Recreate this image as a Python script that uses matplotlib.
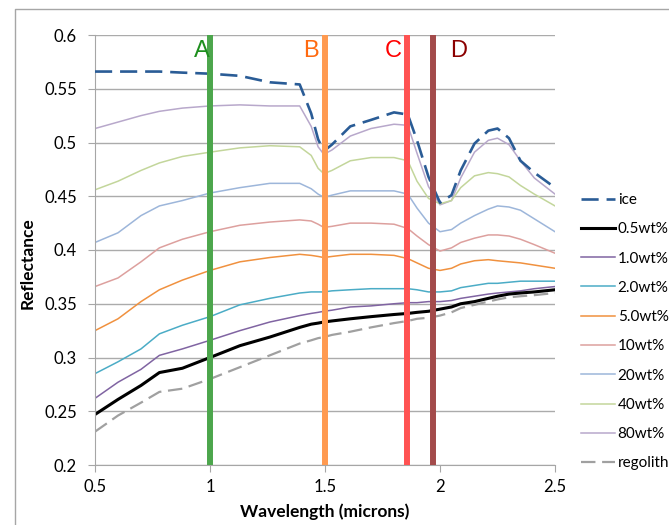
import matplotlib
matplotlib.use('Agg')
import matplotlib.pyplot as plt
from matplotlib.lines import Line2D
from matplotlib.ticker import FormatStrFormatter

plt.rcParams['font.family'] = ['Lato', 'DejaVu Sans']

# wavelength grid (microns)
wavelength = [0.5, 0.6, 0.7, 0.78, 0.88, 1.0, 1.13, 1.26, 1.39, 1.44, 1.47, 1.495, 1.53, 1.61,
              1.7, 1.8, 1.86, 1.9, 1.95, 2.0, 2.05, 2.09, 2.15, 2.21, 2.25, 2.3, 2.35, 2.41, 2.5]

ice = [0.566, 0.566, 0.566, 0.566, 0.565, 0.564, 0.562, 0.556, 0.554, 0.527, 0.503, 0.492, 0.498, 0.515,
       0.521, 0.528, 0.526, 0.502, 0.468, 0.444, 0.451, 0.474, 0.499, 0.511, 0.513, 0.504, 0.483, 0.472, 0.458]
wt80 = [0.513, 0.519, 0.525, 0.529, 0.532, 0.534, 0.535, 0.534, 0.534, 0.515, 0.496, 0.489, 0.493, 0.506,
        0.513, 0.517, 0.516, 0.490, 0.459, 0.442, 0.446, 0.467, 0.491, 0.502, 0.504, 0.498, 0.483, 0.467, 0.452]
wt40 = [0.456, 0.464, 0.474, 0.481, 0.487, 0.491, 0.495, 0.497, 0.496, 0.488, 0.476, 0.471, 0.474, 0.483,
        0.486, 0.486, 0.483, 0.464, 0.448, 0.443, 0.446, 0.458, 0.469, 0.472, 0.471, 0.468, 0.460, 0.452, 0.441]
wt20 = [0.407, 0.416, 0.432, 0.441, 0.446, 0.453, 0.458, 0.462, 0.462, 0.457, 0.452, 0.449, 0.451, 0.455,
        0.455, 0.455, 0.452, 0.439, 0.425, 0.417, 0.419, 0.425, 0.432, 0.438, 0.441, 0.440, 0.437, 0.429, 0.417]
wt10 = [0.366, 0.374, 0.389, 0.402, 0.410, 0.417, 0.423, 0.426, 0.428, 0.427, 0.424, 0.421, 0.422, 0.425,
        0.425, 0.424, 0.420, 0.413, 0.405, 0.399, 0.402, 0.407, 0.411, 0.414, 0.414, 0.413, 0.410, 0.405, 0.397]
wt5 = [0.325, 0.336, 0.352, 0.363, 0.372, 0.381, 0.389, 0.393, 0.396, 0.395, 0.394, 0.393, 0.394, 0.396,
       0.396, 0.395, 0.392, 0.388, 0.383, 0.381, 0.383, 0.387, 0.390, 0.391, 0.390, 0.389, 0.388, 0.386, 0.383]
wt2 = [0.285, 0.296, 0.308, 0.322, 0.330, 0.338, 0.349, 0.355, 0.360, 0.361, 0.361, 0.361, 0.362, 0.363,
       0.364, 0.364, 0.364, 0.363, 0.361, 0.361, 0.362, 0.365, 0.367, 0.369, 0.369, 0.370, 0.371, 0.371, 0.371]
wt1 = [0.262, 0.277, 0.289, 0.302, 0.308, 0.316, 0.325, 0.333, 0.339, 0.341, 0.342, 0.343, 0.344, 0.347,
       0.348, 0.350, 0.351, 0.351, 0.352, 0.352, 0.353, 0.355, 0.357, 0.359, 0.360, 0.361, 0.362, 0.364, 0.366]
wt05 = [0.247, 0.261, 0.274, 0.286, 0.290, 0.300, 0.311, 0.319, 0.328, 0.331, 0.332, 0.333, 0.334, 0.336,
        0.338, 0.340, 0.341, 0.342, 0.343, 0.345, 0.347, 0.350, 0.352, 0.355, 0.357, 0.359, 0.360, 0.361, 0.363]
regolith = [0.231, 0.246, 0.258, 0.268, 0.271, 0.280, 0.291, 0.302, 0.313, 0.316, 0.318, 0.319, 0.321, 0.324,
            0.328, 0.332, 0.334, 0.336, 0.337, 0.339, 0.342, 0.346, 0.349, 0.352, 0.354, 0.356, 0.357, 0.358, 0.360]

# absorption band markers
band_names = ['A', 'B', 'C', 'D']
band_pos = [1.0, 1.5, 1.857, 1.97]

W, H = 669, 525
fig = plt.figure(figsize=(W / 100, H / 100), dpi=100)
ax = fig.add_axes([95 / W, 60 / H, 460 / W, 430 / H])

series = [
    ('ice', ice, dict(color='#2A5C96', lw=1.9, ls=(0, (6.5, 3)))),
    ('0.5wt%', wt05, dict(color='black', lw=2.2)),
    ('1.0wt%', wt1, dict(color='#8064A2', lw=1.1)),
    ('2.0wt%', wt2, dict(color='#4BACC6', lw=1.1)),
    ('5.0wt%', wt5, dict(color='#F0913F', lw=1.1)),
    ('10wt%', wt10, dict(color='#DDA09E', lw=1.1)),
    ('20wt%', wt20, dict(color='#9DB6DA', lw=1.1)),
    ('40wt%', wt40, dict(color='#C3D69B', lw=1.1)),
    ('80wt%', wt80, dict(color='#B8A8CB', lw=1.1)),
    ('regolith', regolith, dict(color='#A0A0A0', lw=1.6, ls=(0, (6.5, 3)))),
]
# draw in reverse so ice ends up on top of the curves
for name, vals, st in reversed(series):
    ax.plot(wavelength, vals, label=name, zorder=3 if name == 'ice' else 2, **st)

band_colors = ['#4CA64C', '#FF9A50', '#FF5252', '#A34B4B']
text_colors = ['#1E8F1E', '#FF6A10', '#FF0000', '#8B0000']
text_dx = [-0.035, -0.06, -0.06, 0.11]
for name, x, bc, tc, dx in zip(band_names, band_pos, band_colors, text_colors, text_dx):
    ax.axvline(x, color=bc, lw=4.3, zorder=4)
    ax.text(x + dx, 0.585, name, color=tc, fontsize=17, family=['Liberation Sans'],
            ha='center', va='center', zorder=5)

ax.set_xlim(0.5, 2.5)
ax.set_ylim(0.2, 0.6)
ax.set_xticks([0.5, 1, 1.5, 2, 2.5])
ax.set_yticks([0.2, 0.25, 0.3, 0.35, 0.4, 0.45, 0.5, 0.55, 0.6])
ax.xaxis.set_major_formatter(FormatStrFormatter('%g'))
ax.yaxis.set_major_formatter(FormatStrFormatter('%g'))
ax.grid(axis='y', color='#ABABAB', lw=1.0)
ax.set_axisbelow(True)
for s in ['top', 'right']:
    ax.spines[s].set_visible(False)
for s in ['left', 'bottom']:
    ax.spines[s].set_color('#A6A6A6')
ax.tick_params(axis='both', direction='out', length=5, color='#A6A6A6', labelsize=12)
ax.tick_params(axis='x', pad=5)
ax.tick_params(axis='y', pad=8)

ax.set_xlabel('Wavelength (microns)', fontsize=12.5, fontweight='bold', labelpad=6)
ax.set_ylabel('Reflectance', fontsize=12.5, fontweight='bold')
ax.yaxis.set_label_coords(-0.128, 0.47)

handles = [Line2D([], [], **st) for _, _, st in series]
labels = [n for n, _, _ in series]
fig.legend(handles, labels, loc='upper left', bbox_to_anchor=(581 / W, 1 - 193 / H),
           frameon=False, fontsize=11, handlelength=2.2, handletextpad=0.2,
           labelspacing=1.0, borderpad=0, borderaxespad=0)

# chart area border
fig.add_artist(Line2D([15 / W, 15 / W, 1], [0, 1 - 9 / H, 1 - 9 / H], color='#A6A6A6', lw=1.0,
                      transform=fig.transFigure))

fig.savefig('out.png', dpi=100)
